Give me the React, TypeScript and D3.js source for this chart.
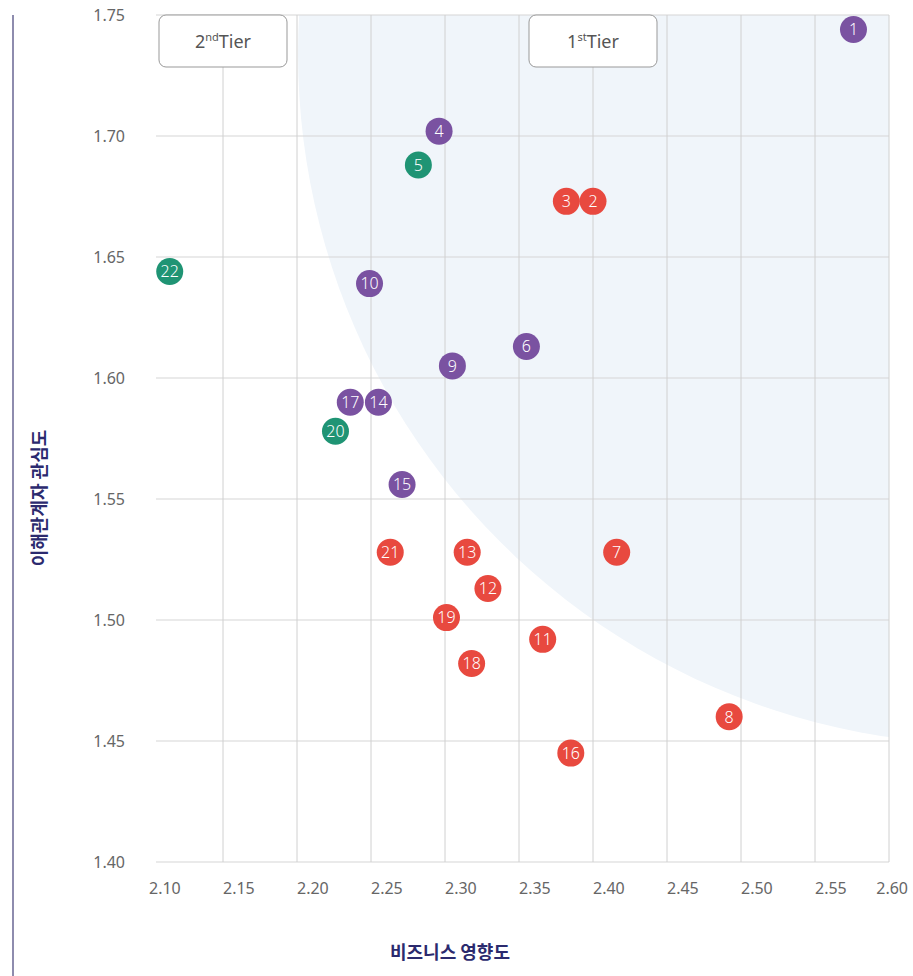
import React from "react";
import * as d3 from "d3";

const ids = [1, 2, 3, 4, 5, 6, 7, 8, 9, 10, 11, 12, 13, 14, 15, 16, 17, 18, 19, 20, 21, 22];
const bizImpact = [2.576, 2.4, 2.382, 2.296, 2.282, 2.355, 2.416, 2.492, 2.305, 2.249, 2.366, 2.329, 2.315, 2.255, 2.271, 2.385, 2.236, 2.318, 2.301, 2.226, 2.263, 2.114];
const stakeholder = [1.744, 1.673, 1.673, 1.702, 1.688, 1.613, 1.528, 1.46, 1.605, 1.639, 1.492, 1.513, 1.528, 1.59, 1.556, 1.445, 1.59, 1.482, 1.501, 1.578, 1.528, 1.644];
const groups = ["p", "r", "r", "p", "g", "p", "r", "r", "p", "p", "r", "r", "r", "p", "p", "r", "p", "r", "r", "g", "r", "g"];
const xTicks = [2.1, 2.15, 2.2, 2.25, 2.3, 2.35, 2.4, 2.45, 2.5, 2.55, 2.6];
const yTicks = [1.4, 1.45, 1.5, 1.55, 1.6, 1.65, 1.7, 1.75];
const tiers = [
  { x: 2.15, num: "2", sup: "nd" },
  { x: 2.4, num: "1", sup: "st" },
];
// background zone (ellipse in data space)
const zone = { cx: 2.6676, cy: 1.7341, rx: 0.4669, ry: 0.2855 };

const colors: Record<string, string> = { p: "#7a52a1", r: "#e8493f", g: "#1f9474" };

export default function App() {
  const W = 913, H = 976;
  const x = d3.scaleLinear().domain([2.1, 2.6]).range([149, 889]);
  const y = d3.scaleLinear().domain([1.4, 1.75]).range([862, 15]);
  const gridLeft = 156;
  const zonePath = (() => {
    const pts: [number, number][] = [];
    for (let i = 0; i <= 200; i++) {
      const a = (i / 200) * Math.PI * 2;
      pts.push([x(zone.cx + zone.rx * Math.cos(a)), y(zone.cy + zone.ry * Math.sin(a))]);
    }
    return d3.line()(pts) + "Z";
  })();
  const numFont = "'Noto Sans', 'Open Sans', sans-serif";
  const krFont = "'Noto Sans CJK KR', sans-serif";
  return (
    <svg width={W} height={H} style={{ position: "absolute", left: 0, top: 0, background: "#fff" }}>
      <defs>
        <clipPath id="plotclip">
          <rect x={x(2.1)} y={y(1.75)} width={x(2.6) - x(2.1)} height={y(1.4) - y(1.75)} />
        </clipPath>
      </defs>
      <path d={zonePath} fill="#f0f5fa" clipPath="url(#plotclip)" />
      {yTicks.map((t) => (
        <line key={"hy" + t} x1={gridLeft} x2={x(2.6)} y1={y(t)} y2={y(t)} stroke="#d6d6d6" strokeWidth={1.2} />
      ))}
      {xTicks.slice(1).map((t) => (
        <line key={"vx" + t} x1={x(t)} x2={x(t)} y1={y(1.75)} y2={y(1.4)} stroke="#d0d0d0" strokeWidth={1} />
      ))}
      {yTicks.map((t) => (
        <text key={"ty" + t} x={125} y={y(t)} dy="0.35em" textAnchor="end" fontFamily={numFont} fontSize={16} fill="#666">
          {d3.format(".2f")(t)}
        </text>
      ))}
      {xTicks.map((t, i) => (
        <text
          key={"tx" + t}
          x={i === xTicks.length - 1 ? 908 : x(t)}
          y={894}
          textAnchor={i === xTicks.length - 1 ? "end" : "start"}
          fontFamily={numFont}
          fontSize={16}
          fill="#666"
        >
          {d3.format(".2f")(t)}
        </text>
      ))}
      <line x1={13} x2={13} y1={15} y2={H} stroke="#8e8cae" strokeWidth={2} />
      <text
        transform={`translate(46, ${498}) rotate(-90)`}
        textAnchor="middle"
        fontFamily={krFont}
        fontWeight={700}
        fontSize={18}
        fill="#2b2a6e"
      >
        이해관계자 관심도
      </text>
      <text x={450} y={959} textAnchor="middle" fontFamily={krFont} fontWeight={700} fontSize={18} fill="#2b2a6e">
        비즈니스 영향도
      </text>
      {tiers.map((t) => (
        <g key={t.num}>
          <rect x={x(t.x) - 64} y={y(1.75)} width={128} height={52} rx={7} fill="#fff" stroke="#999" strokeWidth={1} />
          <text x={x(t.x)} y={y(1.75) + 33} textAnchor="middle" fontFamily={numFont} fontSize={18} fill="#555">
            {t.num}
            <tspan fontSize={11} dy={-7}>{t.sup}</tspan>
            <tspan dy={7}>Tier</tspan>
          </text>
        </g>
      ))}
      {ids.map((id, i) => (
        <g key={id} transform={`translate(${x(bizImpact[i])},${y(stakeholder[i])})`}>
          <circle r={13.5} fill={colors[groups[i]]} />
          <text dy="0.36em" textAnchor="middle" fontFamily={numFont} fontWeight={300} fontSize={16} fill="#fff">
            {id}
          </text>
        </g>
      ))}
    </svg>
  );
}
